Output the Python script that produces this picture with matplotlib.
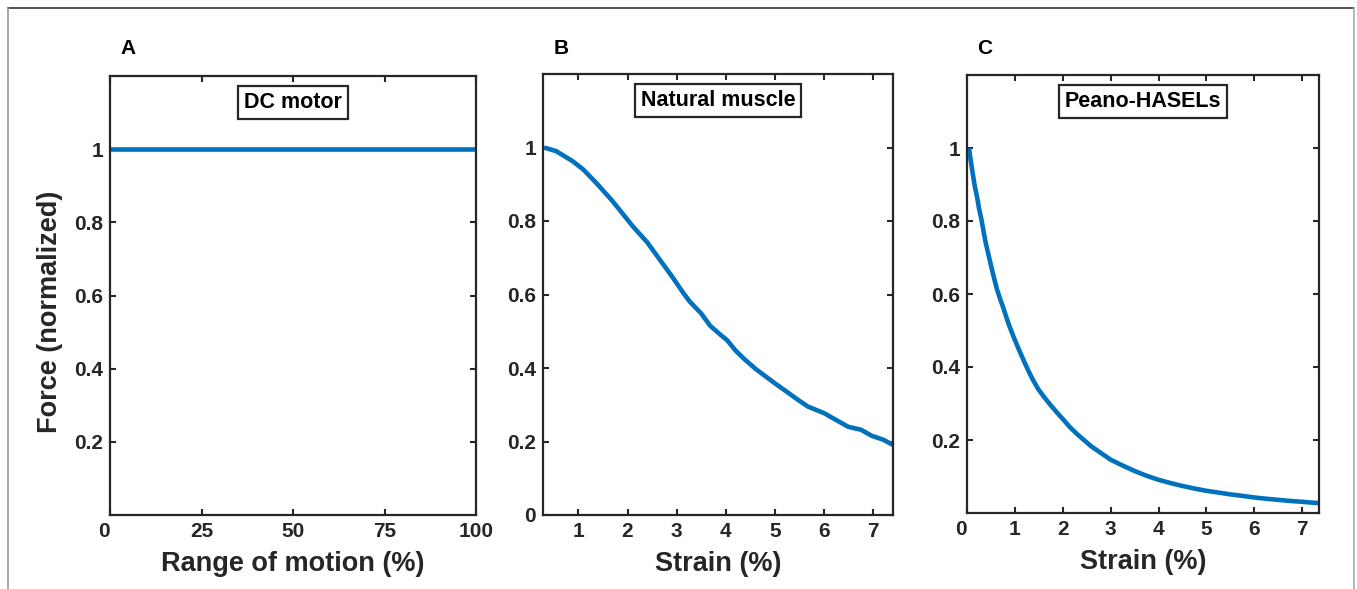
import numpy as np
import matplotlib
matplotlib.use("Agg")
import matplotlib.pyplot as plt
from matplotlib.lines import Line2D

plt.rcParams["font.family"] = ["Liberation Sans", "DejaVu Sans"]
plt.rcParams["font.weight"] = "bold"

DARK = "#262626"
BLUE = "#0072BD"

# panel A: DC motor
motor_x = [0, 100]
motor_y = [1.0, 1.0]

# panel B: natural muscle
muscle_x = [0.30, 0.55, 0.88, 1.10, 1.36, 1.67, 1.90, 2.11, 2.40, 2.66, 2.90,
            3.14, 3.27, 3.50, 3.68, 3.85, 4.03, 4.20, 4.37, 4.60, 4.78, 5.00,
            5.19, 5.45, 5.67, 6.00, 6.25, 6.49, 6.75, 6.96, 7.20, 7.41]
muscle_y = [1.000, 0.990, 0.963, 0.940, 0.904, 0.858, 0.820, 0.785, 0.742,
            0.694, 0.650, 0.603, 0.580, 0.548, 0.515, 0.495, 0.475, 0.447,
            0.425, 0.398, 0.380, 0.358, 0.340, 0.315, 0.295, 0.277, 0.258,
            0.240, 0.232, 0.216, 0.205, 0.190]

# panel C: Peano-HASELs
hasel_x = [0.04, 0.08, 0.12, 0.16, 0.21, 0.25, 0.30, 0.34, 0.38, 0.43, 0.48,
           0.53, 0.58, 0.63, 0.69, 0.75, 0.80, 0.85, 0.90, 0.99, 1.08, 1.18,
           1.28, 1.38, 1.49, 1.62, 1.75, 1.88, 2.01, 2.15, 2.30, 2.45, 2.59,
           2.80, 3.00, 3.25, 3.50, 3.75, 4.00, 4.25, 4.50, 4.75, 4.99, 5.25,
           5.50, 5.75, 5.97, 6.25, 6.50, 6.75, 6.97, 7.15, 7.35]
hasel_y = [1.000, 0.964, 0.930, 0.897, 0.866, 0.835, 0.805, 0.776, 0.747,
           0.718, 0.690, 0.662, 0.636, 0.611, 0.587, 0.565, 0.545, 0.525,
           0.507, 0.477, 0.449, 0.419, 0.390, 0.364, 0.339, 0.316, 0.295,
           0.275, 0.256, 0.235, 0.216, 0.199, 0.183, 0.164, 0.146, 0.130,
           0.115, 0.102, 0.091, 0.082, 0.074, 0.067, 0.061, 0.056, 0.051,
           0.047, 0.043, 0.039, 0.036, 0.033, 0.031, 0.029, 0.027]

fig = plt.figure(figsize=(13.57, 5.89), dpi=100)

W, H = 1357.0, 589.0
def box(l, r, t, b):
    return [l / W, (H - b) / H, (r - l) / W, (b - t) / H]

axA = fig.add_axes(box(110, 476, 76, 515))
axB = fig.add_axes(box(543, 893, 74, 515))
axC = fig.add_axes(box(967, 1319, 75, 513))

panels = [
    (axA, motor_x, motor_y, (0, 100), [0, 25, 50, 75, 100], [0.2, 0.4, 0.6, 0.8, 1.0],
     "DC motor", "Range of motion (%)", "A"),
    (axB, muscle_x, muscle_y, (0.28, 7.4), [1, 2, 3, 4, 5, 6, 7], [0, 0.2, 0.4, 0.6, 0.8, 1.0],
     "Natural muscle", "Strain (%)", "B"),
    (axC, hasel_x, hasel_y, (0.04, 7.35), [0, 1, 2, 3, 4, 5, 6, 7], [0.2, 0.4, 0.6, 0.8, 1.0],
     "Peano-HASELs", "Strain (%)", "C"),
]

def fmt(v):
    return "%g" % v

for ax, xs, ys, xlim, xt, yt, title, xlabel, letter in panels:
    ax.plot(xs, ys, color=BLUE, lw=3.3, solid_capstyle="butt",
            solid_joinstyle="round", clip_on=False)
    ax.set_xlim(*xlim)
    ax.set_ylim(0, 1.2)
    ax.set_xticks(xt)
    ax.set_yticks(yt)
    ax.set_xticklabels([fmt(v) for v in xt])
    ax.set_yticklabels([fmt(v) for v in yt])
    if xt[0] == 0:
        ax.get_xticklabels()[0].set_horizontalalignment("right")
    ax.tick_params(direction="in", length=4, width=1.5, colors=DARK,
                   labelsize=15, top=True, right=True, pad=5)
    for lab in ax.get_xticklabels() + ax.get_yticklabels():
        lab.set_fontweight("bold")
    for s in ax.spines.values():
        s.set_linewidth(1.6)
        s.set_color(DARK)
    ax.set_xlabel(xlabel, fontsize=19.5, fontweight="bold", color=DARK, labelpad=7)
    ax.text(0.5, 0.94, title, transform=ax.transAxes, ha="center", va="center",
            fontsize=15.5, fontweight="bold", color="black",
            bbox=dict(boxstyle="square,pad=0.28", fc="white", ec=DARK, lw=1.6))
    pos = ax.get_position()
    fig.text(pos.x0 + 18 / W, 1 - 48 / H, letter, ha="center", va="center",
             fontsize=15, fontweight="bold", color="black")

axA.set_ylabel("Force (normalized)", fontsize=19.5, fontweight="bold", color=DARK)
axA.yaxis.set_label_coords(-0.128, 0.462)

# outer frame of the figure
fig.add_artist(Line2D([8 / W, 1354 / W], [1 - 8 / H, 1 - 8 / H], color="#333333", lw=1.2))
fig.add_artist(Line2D([8 / W, 8 / W], [0, 1 - 8 / H], color="#999999", lw=1.2))
fig.add_artist(Line2D([1354 / W, 1354 / W], [0, 1 - 8 / H], color="#aaaaaa", lw=1.2))

fig.savefig("out.png", dpi=100)
